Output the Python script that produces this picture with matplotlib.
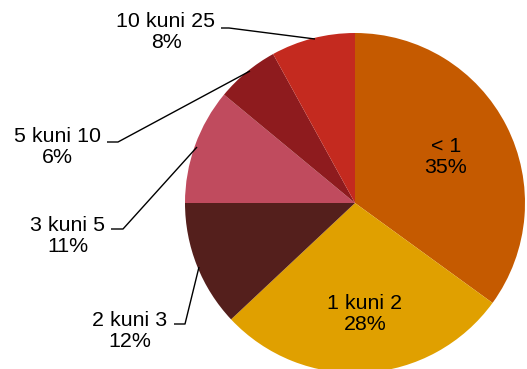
import matplotlib
matplotlib.use("Agg")
import matplotlib.pyplot as plt

# Share of items by range
categories = ["< 1", "1 kuni 2", "2 kuni 3", "3 kuni 5", "5 kuni 10", "10 kuni 25"]
shares = [35, 28, 12, 11, 6, 8]
colors = ["#C55A00", "#E0A000", "#541F1C", "#C04B5E", "#8E1B1E", "#C42A1F"]

W, H = 527, 369
fig = plt.figure(figsize=(W / 100, H / 100), dpi=100)
ax = fig.add_axes([0, 0, 1, 1])

cx, cy, r = 355, H - 203, 170
ax.pie(shares, colors=colors, startangle=90, counterclock=False,
       center=(cx, cy), radius=r, wedgeprops=dict(linewidth=0))
ax.set_xlim(0, W)
ax.set_ylim(0, H)
ax.set_aspect("equal")
ax.axis("off")

font = dict(family=["Liberation Sans", "DejaVu Sans"], size=15.4, color="black")

# label block centres in pixel coordinates (top-left origin)
label_pos = [(446, 157), (365, 314), (130, 331), (68, 236), (57, 147), (166, 32)]
for name, val, (x, y) in zip(categories, shares, label_pos):
    ax.text(x, H - y, f"{name}\n{val}%", ha="center", va="center",
            linespacing=1.14, **font)

# leader lines for the outside labels
leaders = {
    "2 kuni 3": [(174, 324), (185, 324), (199, 267)],
    "3 kuni 5": [(111, 229), (123, 229), (197, 147)],
    "5 kuni 10": [(107, 142), (118, 142), (250, 71)],
    "10 kuni 25": [(221, 28), (229, 28), (315, 39)],
}
for pts in leaders.values():
    xs = [p[0] for p in pts]
    ys = [H - p[1] for p in pts]
    ax.plot(xs, ys, color="black", linewidth=1.0, solid_capstyle="butt")

fig.savefig("out.png", dpi=100)
